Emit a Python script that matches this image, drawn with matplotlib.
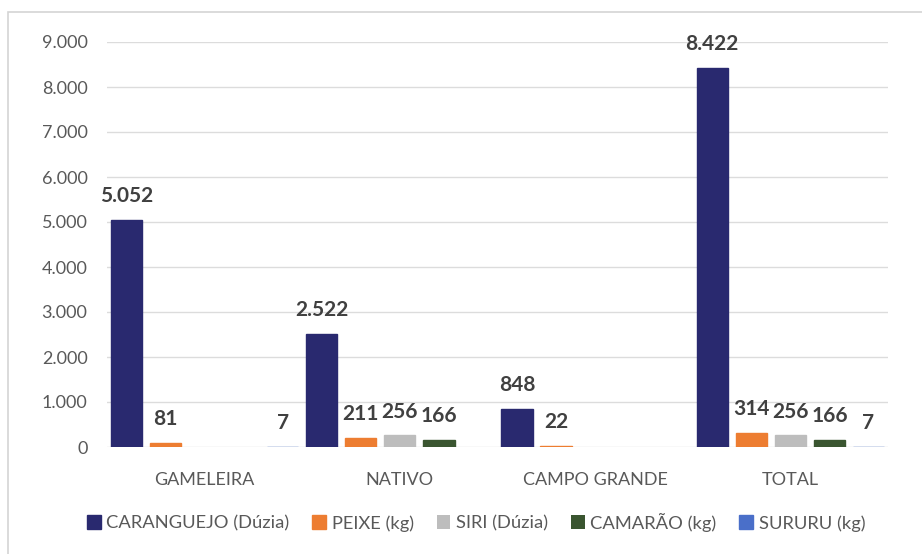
import matplotlib.pyplot as plt
import matplotlib.patches as mpatches
from matplotlib.ticker import FuncFormatter
import numpy as np

# dados
locais = ['GAMELEIRA', 'NATIVO', 'CAMPO GRANDE', 'TOTAL']
caranguejo = [5052, 2522, 848, 8422]
peixe = [81, 211, 22, 314]
siri = [0, 256, 0, 256]
camarao = [0, 166, 0, 166]
sururu = [7, 0, 0, 7]

series = [caranguejo, peixe, siri, camarao, sururu]
nomes = ['CARANGUEJO (Dúzia)', 'PEIXE (kg)', 'SIRI (Dúzia)', 'CAMARÃO (kg)', 'SURURU (kg)']
cores = ['#29296f', '#ed7d31', '#bdbdbd', '#3a5530', '#4a6fc9']

plt.rcParams['font.family'] = ['Lato', 'DejaVu Sans']

fig = plt.figure(figsize=(9.22, 5.54), dpi=100)
ax = fig.add_axes([107/922, 1-447/554, (888-107)/922, (447-42)/554])

# moldura externa
fig.patches.append(mpatches.Rectangle((8/922, -0.05), 1.0, 1-12/554+0.05,
                                      transform=fig.transFigure, fill=False,
                                      edgecolor='#d4d4d4', linewidth=1.2))

x = np.arange(len(locais))
passo = 0.2
larg = 0.16
for i, (vals, nome, cor) in enumerate(zip(series, nomes, cores)):
    pos = x + (i - 2) * passo
    # borda da mesma cor para que as barras pequenas (7, 22) aparecam
    ax.bar(pos, vals, width=larg, color=cor, edgecolor=cor,
           linewidth=[1 if v else 0 for v in vals], label=nome, zorder=3)
    for px, v in zip(pos, vals):
        if v == 0:
            continue
        ax.annotate(f'{v:,}'.replace(',', '.'), (px, v), xytext=(0, 10),
                    textcoords='offset points', ha='center', va='bottom',
                    fontsize=15, fontweight='bold', color='#404040')

ax.set_xlim(-0.5, 3.5)
ax.set_ylim(0, 9000)
ax.set_yticks(np.arange(0, 9001, 1000))
ax.yaxis.set_major_formatter(FuncFormatter(lambda v, p: f'{int(v):,}'.replace(',', '.')))
ax.set_xticks(x)
ax.set_xticklabels(locais)
ax.tick_params(axis='y', length=0, pad=14, labelsize=13, labelcolor='#595959')
ax.tick_params(axis='x', length=0, pad=18, labelsize=13, labelcolor='#595959')
ax.grid(axis='y', color='#dcdcdc', linewidth=1, zorder=0)
for s in ax.spines.values():
    s.set_visible(False)

fig.legend(loc='center', bbox_to_anchor=(476/922, 1-522/554), ncol=5,
           frameon=False, fontsize=13.2, handlelength=0.75, handleheight=0.75,
           handletextpad=0.3, columnspacing=1.25, labelcolor='#595959')

fig.savefig('out.png', dpi=100)
